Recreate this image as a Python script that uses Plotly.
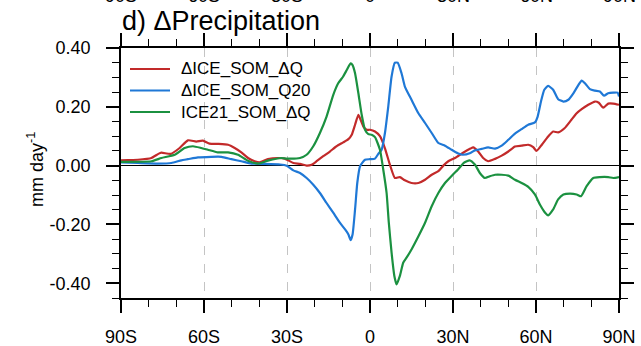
import plotly.graph_objects as go

# Zonal-mean precipitation change (mm/day) against latitude
lat_ice_dq = [-90, -87.5, -83.9, -79, -76.5, -75.4, -72, -68.8, -65.8, -62.8, -60.4, -58, -55,
              -51.3, -48.9, -46.5, -44.1, -41.7, -39.9, -36.9, -33.3, -30.8, -27.7, -25.3, -22.9,
              -21.1, -19.3, -16.9, -14.5, -12.1, -9.7, -7.8, -6.6, -5.4, -4.2, -3.4, -2.4, -1.2,
              0, 1.8, 3.6, 5.4, 7.2, 9, 10.8, 12.6, 15, 17.5, 19.9, 22.3, 24.7, 26.5, 28.3, 30.7,
              33.5, 36.3, 37.3, 39.1, 40.9, 42.7, 45.2, 47.6, 50, 52.4, 54.8, 57.2, 59, 60.2,
              62.1, 64.4, 66.2, 68, 70.3, 72.8, 74.7, 76.5, 78.9, 81.3, 82.7, 84.3, 86.1, 87.9, 90]
ice_dq = [0.018, 0.019, 0.020, 0.026, 0.040, 0.044, 0.040, 0.060, 0.086, 0.082, 0.085, 0.075, 0.074,
          0.071, 0.060, 0.045, 0.026, 0.015, 0.011, 0.022, 0.026, 0.024, 0.009, 0.006, 0.000,
          0.003, 0.015, 0.032, 0.048, 0.066, 0.079, 0.090, 0.105, 0.139, 0.173, 0.156, 0.133, 0.122,
          0.122, 0.116, 0.100, 0.059, 0.003, -0.042, -0.039, -0.050, -0.059, -0.059, -0.048, -0.031,
          -0.019, 0.000, 0.015, 0.026, 0.043, 0.058, 0.062, 0.048, 0.026, 0.015, 0.023, 0.034,
          0.048, 0.065, 0.068, 0.071, 0.063, 0.050, 0.071, 0.099, 0.116, 0.113, 0.127, 0.156,
          0.178, 0.192, 0.207, 0.218, 0.214, 0.197, 0.211, 0.211, 0.207]

lat_ice_q20 = [-90, -83.9, -76.6, -71.8, -68.2, -65.8, -62.2, -57.4, -53.7, -50.1, -46.5, -42.9,
               -38.1, -32.5, -30.1, -27.7, -25.3, -22.9, -20.5, -18.1, -15.7, -13.3, -10.9, -9,
               -7.8, -7, -6.3, -5.4, -4.6, -3.6, -1.8, 0, 1.8, 3, 4.2, 5.4, 6.6, 7.8, 9, 10, 11.4,
               12.6, 15, 17.5, 19.9, 22.3, 24.7, 27.1, 29.5, 31.9, 33.5, 36.3, 37.9, 40.4, 42.7,
               45.2, 47.6, 50, 52.4, 54.8, 57.2, 59.6, 60.6, 61.8, 63, 64.4, 66.2, 68, 69.9, 71.7,
               73.5, 75.3, 76.5, 77.7, 79.5, 81.3, 83.1, 84.6, 86.1, 87.9, 89.5, 90]
ice_q20 = [0.011, 0.009, 0.007, 0.009, 0.018, 0.022, 0.028, 0.030, 0.030, 0.022, 0.015, 0.007,
           0.006, 0.004, 0.000, -0.016, -0.025, -0.042, -0.065, -0.093, -0.127, -0.160, -0.194,
           -0.217, -0.234, -0.253, -0.234, -0.149, -0.059, -0.002, 0.020, 0.022, 0.024, 0.040,
           0.054, 0.111, 0.201, 0.303, 0.350, 0.350, 0.314, 0.269, 0.224, 0.178, 0.145, 0.111,
           0.077, 0.068, 0.054, 0.041, 0.037, 0.043, 0.052, 0.057, 0.062, 0.058, 0.068, 0.088,
           0.109, 0.124, 0.139, 0.147, 0.167, 0.218, 0.258, 0.271, 0.258, 0.226, 0.218, 0.224,
           0.246, 0.274, 0.289, 0.280, 0.260, 0.255, 0.252, 0.238, 0.246, 0.248, 0.248, 0.235]

lat_ice21_dq = [-90, -79, -75.4, -70.6, -67, -64, -61, -58.6, -55, -51.3, -47.7, -44.1, -40.5,
                -36.9, -32.1, -30.1, -25.3, -22.9, -20.5, -18.1, -15.7, -13.3, -11.5, -9.7, -8.4,
                -7, -6.3, -5.4, -4.2, -3, -1.8, -0.6, 0.6, 1.8, 3.6, 4.8, 6, 6.8, 7.8, 8.8, 9.6,
                10.8, 12, 13.2, 15, 17.5, 19.9, 22.3, 24.7, 27.1, 29.5, 31.9, 34, 36, 37.9, 39.7,
                41.5, 43.3, 45.2, 47.6, 50, 52.4, 54.8, 57.2, 59.6, 61.4, 63.3, 64.4, 66.2, 68,
                69.9, 72.3, 74.7, 76.3, 78.3, 80.7, 83.1, 86.1, 87.9, 90]
ice21_dq = [0.013, 0.015, 0.026, 0.037, 0.060, 0.066, 0.060, 0.054, 0.045, 0.045, 0.037, 0.017,
            0.007, 0.017, 0.026, 0.024, 0.026, 0.037, 0.066, 0.111, 0.167, 0.240, 0.280, 0.303,
            0.325, 0.348, 0.342, 0.314, 0.246, 0.173, 0.122, 0.107, 0.105, 0.097, 0.054, -0.014,
            -0.093, -0.194, -0.296, -0.375, -0.404, -0.375, -0.330, -0.313, -0.285, -0.240,
            -0.194, -0.138, -0.093, -0.059, -0.035, -0.012, 0.010, 0.018, 0.004, -0.025, -0.042,
            -0.036, -0.031, -0.031, -0.034, -0.048, -0.059, -0.072, -0.098, -0.132, -0.160,
            -0.169, -0.149, -0.115, -0.098, -0.095, -0.098, -0.104, -0.070, -0.042, -0.039,
            -0.039, -0.042, -0.039]

series_names = ["\u0394ICE_SOM_\u0394Q", "\u0394ICE_SOM_Q20", "ICE21_SOM_\u0394Q"]
series_colors = ["#c22a2a", "#1f78d6", "#1b9140"]

x_tickvals = [-90, -60, -30, 0, 30, 60, 90]
x_ticktext = ["90S", "60S", "30S", "0", "30N", "60N", "90N"]
y_tickvals = [-0.4, -0.2, 0.0, 0.2, 0.4]
y_ticktext = ["-0.40", "-0.20", "0.00", "0.20", "0.40"]
x_range = [-90, 90]
y_range = [-0.45, 0.40]

FONT = "Liberation Sans, Arial, Helvetica, sans-serif"

# plot-area geometry in pixels
W, H = 641, 346
ML, MR, MT, MB = 121, 22, 48, 48
PW, PH = W - ML - MR, H - MT - MB


def px_x(p):
    return (p - ML) / PW


def px_y(p):
    return (H - MB - p) / PH


# the last series sits on the top/right axis pair, which share the same ranges
axis_pairs = [("x", "y"), ("x", "y"), ("x2", "y2")]

fig = go.Figure()
for lats, vals, name, color, (xa, ya) in zip([lat_ice_dq, lat_ice_q20, lat_ice21_dq],
                                             [ice_dq, ice_q20, ice21_dq],
                                             series_names, series_colors, axis_pairs):
    fig.add_trace(go.Scatter(x=lats, y=vals, mode="lines", name=name, showlegend=False,
                             xaxis=xa, yaxis=ya,
                             line=dict(color=color, width=2.2, shape="spline", smoothing=0.5)))

fig.update_layout(
    width=W, height=H,
    margin=dict(l=ML, r=MR, t=MT, b=MB, autoexpand=False),
    paper_bgcolor="white", plot_bgcolor="white",
    font=dict(family=FONT, size=18, color="black"),
    title=dict(text="d) \u0394Precipitation", x=122 / W, xanchor="left",
               y=1 - 21 / H, yanchor="middle", font=dict(size=27, family=FONT)),
)

tick_style = dict(ticks="outside", ticklen=13, tickwidth=1.6, tickcolor="black",
                  showline=True, linecolor="black", linewidth=1.8, automargin=False)
x_minor = dict(dtick=10, tick0=-90, ticks="outside", ticklen=7, tickwidth=1.4,
               tickcolor="black", showgrid=False)
y_minor = dict(dtick=0.05, tick0=0, ticks="outside", ticklen=7, tickwidth=1.4,
               tickcolor="black", showgrid=False)

fig.update_layout(
    xaxis=dict(range=x_range, tickvals=x_tickvals, ticktext=x_ticktext, side="bottom",
               showgrid=True, gridcolor="#c4c4c4", griddash="dash", gridwidth=1,
               zeroline=False, ticklabelstandoff=8, minor=x_minor, **tick_style),
    yaxis=dict(range=y_range, tickvals=y_tickvals, ticktext=y_ticktext, side="left",
               showgrid=False, zeroline=True, zerolinecolor="black", zerolinewidth=1.3,
               ticklabelstandoff=12, minor=y_minor, **tick_style),
    xaxis2=dict(range=x_range, tickvals=x_tickvals, overlaying="x", side="top",
                showticklabels=False, showgrid=False, zeroline=False,
                minor=x_minor, **tick_style),
    yaxis2=dict(range=y_range, tickvals=y_tickvals, overlaying="y", side="right",
                showticklabels=False, showgrid=False, zeroline=False,
                minor=y_minor, **tick_style),
)

# legend: line samples and labels inside the upper-left corner
legend_rows = [69, 90.5, 112]
for row, name, color in zip(legend_rows, series_names, series_colors):
    fig.add_shape(type="line", xref="paper", yref="paper",
                  x0=px_x(130), x1=px_x(170), y0=px_y(row), y1=px_y(row),
                  line=dict(color=color, width=2.2))
    fig.add_annotation(text=name, xref="paper", yref="paper", x=px_x(179), y=px_y(row),
                       xanchor="left", yanchor="middle", showarrow=False,
                       font=dict(size=17, family=FONT))

# y-axis unit label
fig.add_annotation(text="mm day<sup>-1</sup>", xref="paper", yref="paper",
                   x=px_x(35), y=px_y(170), textangle=-90, showarrow=False,
                   xanchor="center", yanchor="middle", font=dict(size=18, family=FONT))

# bottom of the latitude labels belonging to the panel above
for xv, label in zip(x_tickvals, x_ticktext):
    fig.add_annotation(text=label, xref="x", yref="paper", x=xv, y=px_y(8),
                       xanchor="center", yanchor="bottom", showarrow=False,
                       font=dict(size=18, family=FONT))

fig.write_html("out.html")
